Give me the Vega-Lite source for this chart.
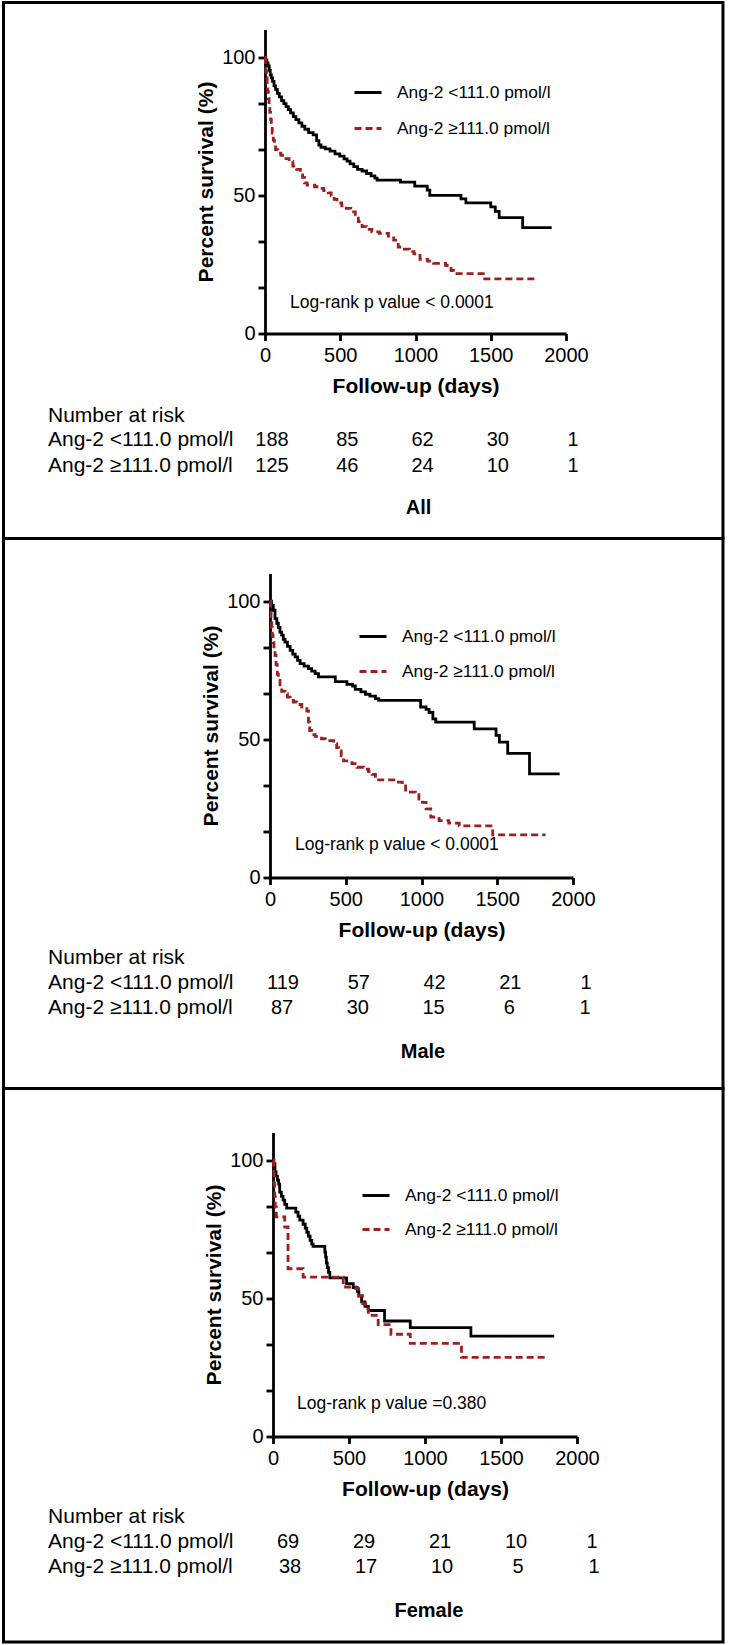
{
  "$schema": "https://vega.github.io/schema/vega-lite/v6.json",
  "padding": {"left": 2, "top": 0.5, "right": 0, "bottom": 0},
  "background": "white",
  "columns": 1,
  "align": "none",
  "spacing": -4,
  "resolve": {"scale": {"color": "independent", "strokeDash": "independent"}, "legend": {"color": "independent", "strokeDash": "independent"}},
  "config": {
    "font": "Liberation Sans",
    "view": {"stroke": null},
    "axis": {
      "grid": false, "domainColor": "black", "domainWidth": 2.8, "tickColor": "black", "tickWidth": 2.8,
      "labelColor": "black", "labelFontSize": 20, "labelFont": "Liberation Sans",
      "titleColor": "black", "titleFontSize": 21, "titleFontWeight": "bold", "titleFont": "Liberation Sans"
    },
    "text": {"font": "Liberation Sans", "color": "black"}
  },
  "datasets": {
    "panels": [
      {"panel": "All", "logrank": "Log-rank p value < 0.0001"},
      {"panel": "Male", "logrank": "Log-rank p value < 0.0001"},
      {"panel": "Female", "logrank": "Log-rank p value =0.380"}
    ],
    "risk": [
      {"panel": "All", "group": "Ang-2 <111.0 pmol/l", "time": 0, "n": 188},
      {"panel": "All", "group": "Ang-2 <111.0 pmol/l", "time": 500, "n": 85},
      {"panel": "All", "group": "Ang-2 <111.0 pmol/l", "time": 1000, "n": 62},
      {"panel": "All", "group": "Ang-2 <111.0 pmol/l", "time": 1500, "n": 30},
      {"panel": "All", "group": "Ang-2 <111.0 pmol/l", "time": 2000, "n": 1},
      {"panel": "All", "group": "Ang-2 ≥111.0 pmol/l", "time": 0, "n": 125},
      {"panel": "All", "group": "Ang-2 ≥111.0 pmol/l", "time": 500, "n": 46},
      {"panel": "All", "group": "Ang-2 ≥111.0 pmol/l", "time": 1000, "n": 24},
      {"panel": "All", "group": "Ang-2 ≥111.0 pmol/l", "time": 1500, "n": 10},
      {"panel": "All", "group": "Ang-2 ≥111.0 pmol/l", "time": 2000, "n": 1},
      {"panel": "Male", "group": "Ang-2 <111.0 pmol/l", "time": 0, "n": 119},
      {"panel": "Male", "group": "Ang-2 <111.0 pmol/l", "time": 500, "n": 57},
      {"panel": "Male", "group": "Ang-2 <111.0 pmol/l", "time": 1000, "n": 42},
      {"panel": "Male", "group": "Ang-2 <111.0 pmol/l", "time": 1500, "n": 21},
      {"panel": "Male", "group": "Ang-2 <111.0 pmol/l", "time": 2000, "n": 1},
      {"panel": "Male", "group": "Ang-2 ≥111.0 pmol/l", "time": 0, "n": 87},
      {"panel": "Male", "group": "Ang-2 ≥111.0 pmol/l", "time": 500, "n": 30},
      {"panel": "Male", "group": "Ang-2 ≥111.0 pmol/l", "time": 1000, "n": 15},
      {"panel": "Male", "group": "Ang-2 ≥111.0 pmol/l", "time": 1500, "n": 6},
      {"panel": "Male", "group": "Ang-2 ≥111.0 pmol/l", "time": 2000, "n": 1},
      {"panel": "Female", "group": "Ang-2 <111.0 pmol/l", "time": 0, "n": 69},
      {"panel": "Female", "group": "Ang-2 <111.0 pmol/l", "time": 500, "n": 29},
      {"panel": "Female", "group": "Ang-2 <111.0 pmol/l", "time": 1000, "n": 21},
      {"panel": "Female", "group": "Ang-2 <111.0 pmol/l", "time": 1500, "n": 10},
      {"panel": "Female", "group": "Ang-2 <111.0 pmol/l", "time": 2000, "n": 1},
      {"panel": "Female", "group": "Ang-2 ≥111.0 pmol/l", "time": 0, "n": 38},
      {"panel": "Female", "group": "Ang-2 ≥111.0 pmol/l", "time": 500, "n": 17},
      {"panel": "Female", "group": "Ang-2 ≥111.0 pmol/l", "time": 1000, "n": 10},
      {"panel": "Female", "group": "Ang-2 ≥111.0 pmol/l", "time": 1500, "n": 5},
      {"panel": "Female", "group": "Ang-2 ≥111.0 pmol/l", "time": 2000, "n": 1}
    ],
    "km": [
      {"panel":"All","group":"Ang-2 <111.0 pmol/l","day":0,"surv":100},
      {"panel":"All","group":"Ang-2 <111.0 pmol/l","day":5,"surv":98.9},
      {"panel":"All","group":"Ang-2 <111.0 pmol/l","day":12,"surv":97.9},
      {"panel":"All","group":"Ang-2 <111.0 pmol/l","day":20,"surv":96.8},
      {"panel":"All","group":"Ang-2 <111.0 pmol/l","day":28,"surv":95.2},
      {"panel":"All","group":"Ang-2 <111.0 pmol/l","day":35,"surv":93.6},
      {"panel":"All","group":"Ang-2 <111.0 pmol/l","day":42,"surv":92.5},
      {"panel":"All","group":"Ang-2 <111.0 pmol/l","day":50,"surv":91.2},
      {"panel":"All","group":"Ang-2 <111.0 pmol/l","day":60,"surv":89.6},
      {"panel":"All","group":"Ang-2 <111.0 pmol/l","day":70,"surv":88.3},
      {"panel":"All","group":"Ang-2 <111.0 pmol/l","day":82,"surv":86.9},
      {"panel":"All","group":"Ang-2 <111.0 pmol/l","day":95,"surv":85.6},
      {"panel":"All","group":"Ang-2 <111.0 pmol/l","day":110,"surv":84.3},
      {"panel":"All","group":"Ang-2 <111.0 pmol/l","day":125,"surv":83.2},
      {"panel":"All","group":"Ang-2 <111.0 pmol/l","day":140,"surv":82.1},
      {"panel":"All","group":"Ang-2 <111.0 pmol/l","day":155,"surv":81},
      {"panel":"All","group":"Ang-2 <111.0 pmol/l","day":170,"surv":79.8},
      {"panel":"All","group":"Ang-2 <111.0 pmol/l","day":188,"surv":78.5},
      {"panel":"All","group":"Ang-2 <111.0 pmol/l","day":205,"surv":77.4},
      {"panel":"All","group":"Ang-2 <111.0 pmol/l","day":225,"surv":76.2},
      {"panel":"All","group":"Ang-2 <111.0 pmol/l","day":245,"surv":75},
      {"panel":"All","group":"Ang-2 <111.0 pmol/l","day":265,"surv":73.9},
      {"panel":"All","group":"Ang-2 <111.0 pmol/l","day":290,"surv":72.7},
      {"panel":"All","group":"Ang-2 <111.0 pmol/l","day":320,"surv":71.9},
      {"panel":"All","group":"Ang-2 <111.0 pmol/l","day":343,"surv":69.8},
      {"panel":"All","group":"Ang-2 <111.0 pmol/l","day":358,"surv":68.2},
      {"panel":"All","group":"Ang-2 <111.0 pmol/l","day":372,"surv":67.4},
      {"panel":"All","group":"Ang-2 <111.0 pmol/l","day":400,"surv":66.8},
      {"panel":"All","group":"Ang-2 <111.0 pmol/l","day":432,"surv":66},
      {"panel":"All","group":"Ang-2 <111.0 pmol/l","day":465,"surv":65},
      {"panel":"All","group":"Ang-2 <111.0 pmol/l","day":497,"surv":64.2},
      {"panel":"All","group":"Ang-2 <111.0 pmol/l","day":525,"surv":63.2},
      {"panel":"All","group":"Ang-2 <111.0 pmol/l","day":545,"surv":62.4},
      {"panel":"All","group":"Ang-2 <111.0 pmol/l","day":565,"surv":61.4},
      {"panel":"All","group":"Ang-2 <111.0 pmol/l","day":590,"surv":60.4},
      {"panel":"All","group":"Ang-2 <111.0 pmol/l","day":615,"surv":59.4},
      {"panel":"All","group":"Ang-2 <111.0 pmol/l","day":645,"surv":58.8},
      {"panel":"All","group":"Ang-2 <111.0 pmol/l","day":675,"surv":57.9},
      {"panel":"All","group":"Ang-2 <111.0 pmol/l","day":705,"surv":57},
      {"panel":"All","group":"Ang-2 <111.0 pmol/l","day":730,"surv":56.2},
      {"panel":"All","group":"Ang-2 <111.0 pmol/l","day":745,"surv":55.5},
      {"panel":"All","group":"Ang-2 <111.0 pmol/l","day":900,"surv":54.8},
      {"panel":"All","group":"Ang-2 <111.0 pmol/l","day":995,"surv":53.3},
      {"panel":"All","group":"Ang-2 <111.0 pmol/l","day":1078,"surv":51.9},
      {"panel":"All","group":"Ang-2 <111.0 pmol/l","day":1095,"surv":50},
      {"panel":"All","group":"Ang-2 <111.0 pmol/l","day":1302,"surv":48.7},
      {"panel":"All","group":"Ang-2 <111.0 pmol/l","day":1335,"surv":47.3},
      {"panel":"All","group":"Ang-2 <111.0 pmol/l","day":1500,"surv":45.8},
      {"panel":"All","group":"Ang-2 <111.0 pmol/l","day":1530,"surv":44.2},
      {"panel":"All","group":"Ang-2 <111.0 pmol/l","day":1556,"surv":41.9},
      {"panel":"All","group":"Ang-2 <111.0 pmol/l","day":1712,"surv":38.3},
      {"panel":"All","group":"Ang-2 <111.0 pmol/l","day":1905,"surv":38.3},
      {"panel":"All","group":"Ang-2 ≥111.0 pmol/l","day":0,"surv":100},
      {"panel":"All","group":"Ang-2 ≥111.0 pmol/l","day":3,"surv":97.5},
      {"panel":"All","group":"Ang-2 ≥111.0 pmol/l","day":6,"surv":95},
      {"panel":"All","group":"Ang-2 ≥111.0 pmol/l","day":10,"surv":92.5},
      {"panel":"All","group":"Ang-2 ≥111.0 pmol/l","day":14,"surv":90},
      {"panel":"All","group":"Ang-2 ≥111.0 pmol/l","day":18,"surv":87.5},
      {"panel":"All","group":"Ang-2 ≥111.0 pmol/l","day":22,"surv":85},
      {"panel":"All","group":"Ang-2 ≥111.0 pmol/l","day":27,"surv":82.5},
      {"panel":"All","group":"Ang-2 ≥111.0 pmol/l","day":32,"surv":80},
      {"panel":"All","group":"Ang-2 ≥111.0 pmol/l","day":37,"surv":77.5},
      {"panel":"All","group":"Ang-2 ≥111.0 pmol/l","day":42,"surv":75},
      {"panel":"All","group":"Ang-2 ≥111.0 pmol/l","day":48,"surv":72.5},
      {"panel":"All","group":"Ang-2 ≥111.0 pmol/l","day":55,"surv":70},
      {"panel":"All","group":"Ang-2 ≥111.0 pmol/l","day":62,"surv":68},
      {"panel":"All","group":"Ang-2 ≥111.0 pmol/l","day":70,"surv":66.5},
      {"panel":"All","group":"Ang-2 ≥111.0 pmol/l","day":85,"surv":65.3},
      {"panel":"All","group":"Ang-2 ≥111.0 pmol/l","day":105,"surv":64.5},
      {"panel":"All","group":"Ang-2 ≥111.0 pmol/l","day":130,"surv":63.3},
      {"panel":"All","group":"Ang-2 ≥111.0 pmol/l","day":160,"surv":62.3},
      {"panel":"All","group":"Ang-2 ≥111.0 pmol/l","day":185,"surv":60.6},
      {"panel":"All","group":"Ang-2 ≥111.0 pmol/l","day":210,"surv":59.4},
      {"panel":"All","group":"Ang-2 ≥111.0 pmol/l","day":235,"surv":58.2},
      {"panel":"All","group":"Ang-2 ≥111.0 pmol/l","day":250,"surv":56.5},
      {"panel":"All","group":"Ang-2 ≥111.0 pmol/l","day":262,"surv":54.5},
      {"panel":"All","group":"Ang-2 ≥111.0 pmol/l","day":280,"surv":53.7},
      {"panel":"All","group":"Ang-2 ≥111.0 pmol/l","day":330,"surv":53.1},
      {"panel":"All","group":"Ang-2 ≥111.0 pmol/l","day":360,"surv":52.5},
      {"panel":"All","group":"Ang-2 ≥111.0 pmol/l","day":390,"surv":51.7},
      {"panel":"All","group":"Ang-2 ≥111.0 pmol/l","day":420,"surv":50.9},
      {"panel":"All","group":"Ang-2 ≥111.0 pmol/l","day":440,"surv":49.8},
      {"panel":"All","group":"Ang-2 ≥111.0 pmol/l","day":460,"surv":48.5},
      {"panel":"All","group":"Ang-2 ≥111.0 pmol/l","day":478,"surv":47.3},
      {"panel":"All","group":"Ang-2 ≥111.0 pmol/l","day":510,"surv":46.2},
      {"panel":"All","group":"Ang-2 ≥111.0 pmol/l","day":540,"surv":45.3},
      {"panel":"All","group":"Ang-2 ≥111.0 pmol/l","day":570,"surv":44},
      {"panel":"All","group":"Ang-2 ≥111.0 pmol/l","day":600,"surv":42.4},
      {"panel":"All","group":"Ang-2 ≥111.0 pmol/l","day":620,"surv":40.5},
      {"panel":"All","group":"Ang-2 ≥111.0 pmol/l","day":645,"surv":38.7},
      {"panel":"All","group":"Ang-2 ≥111.0 pmol/l","day":675,"surv":37.7},
      {"panel":"All","group":"Ang-2 ≥111.0 pmol/l","day":710,"surv":36.8},
      {"panel":"All","group":"Ang-2 ≥111.0 pmol/l","day":760,"surv":36.2},
      {"panel":"All","group":"Ang-2 ≥111.0 pmol/l","day":820,"surv":35.2},
      {"panel":"All","group":"Ang-2 ≥111.0 pmol/l","day":855,"surv":33.8},
      {"panel":"All","group":"Ang-2 ≥111.0 pmol/l","day":885,"surv":31.3},
      {"panel":"All","group":"Ang-2 ≥111.0 pmol/l","day":915,"surv":30.5},
      {"panel":"All","group":"Ang-2 ≥111.0 pmol/l","day":960,"surv":29.6},
      {"panel":"All","group":"Ang-2 ≥111.0 pmol/l","day":990,"surv":28.8},
      {"panel":"All","group":"Ang-2 ≥111.0 pmol/l","day":1030,"surv":26.8},
      {"panel":"All","group":"Ang-2 ≥111.0 pmol/l","day":1080,"surv":26.2},
      {"panel":"All","group":"Ang-2 ≥111.0 pmol/l","day":1120,"surv":25.4},
      {"panel":"All","group":"Ang-2 ≥111.0 pmol/l","day":1200,"surv":24.6},
      {"panel":"All","group":"Ang-2 ≥111.0 pmol/l","day":1236,"surv":22.8},
      {"panel":"All","group":"Ang-2 ≥111.0 pmol/l","day":1253,"surv":21.7},
      {"panel":"All","group":"Ang-2 ≥111.0 pmol/l","day":1460,"surv":19.8},
      {"panel":"All","group":"Ang-2 ≥111.0 pmol/l","day":1810,"surv":19.8},
      {"panel":"Male","group":"Ang-2 <111.0 pmol/l","day":0,"surv":100},
      {"panel":"Male","group":"Ang-2 <111.0 pmol/l","day":10,"surv":98.5},
      {"panel":"Male","group":"Ang-2 <111.0 pmol/l","day":22,"surv":96.7},
      {"panel":"Male","group":"Ang-2 <111.0 pmol/l","day":33,"surv":93.7},
      {"panel":"Male","group":"Ang-2 <111.0 pmol/l","day":45,"surv":92},
      {"panel":"Male","group":"Ang-2 <111.0 pmol/l","day":55,"surv":90.5},
      {"panel":"Male","group":"Ang-2 <111.0 pmol/l","day":66,"surv":88.8},
      {"panel":"Male","group":"Ang-2 <111.0 pmol/l","day":77,"surv":87.7},
      {"panel":"Male","group":"Ang-2 <111.0 pmol/l","day":88,"surv":86.2},
      {"panel":"Male","group":"Ang-2 <111.0 pmol/l","day":99,"surv":85.2},
      {"panel":"Male","group":"Ang-2 <111.0 pmol/l","day":115,"surv":83.6},
      {"panel":"Male","group":"Ang-2 <111.0 pmol/l","day":133,"surv":82.2},
      {"panel":"Male","group":"Ang-2 <111.0 pmol/l","day":150,"surv":80.8},
      {"panel":"Male","group":"Ang-2 <111.0 pmol/l","day":166,"surv":79.8},
      {"panel":"Male","group":"Ang-2 <111.0 pmol/l","day":182,"surv":78.6},
      {"panel":"Male","group":"Ang-2 <111.0 pmol/l","day":199,"surv":77.4},
      {"panel":"Male","group":"Ang-2 <111.0 pmol/l","day":225,"surv":76.5},
      {"panel":"Male","group":"Ang-2 <111.0 pmol/l","day":254,"surv":75.6},
      {"panel":"Male","group":"Ang-2 <111.0 pmol/l","day":275,"surv":74.7},
      {"panel":"Male","group":"Ang-2 <111.0 pmol/l","day":298,"surv":73.8},
      {"panel":"Male","group":"Ang-2 <111.0 pmol/l","day":320,"surv":72.6},
      {"panel":"Male","group":"Ang-2 <111.0 pmol/l","day":431,"surv":70.9},
      {"panel":"Male","group":"Ang-2 <111.0 pmol/l","day":508,"surv":69.9},
      {"panel":"Male","group":"Ang-2 <111.0 pmol/l","day":545,"surv":69.3},
      {"panel":"Male","group":"Ang-2 <111.0 pmol/l","day":563,"surv":68.1},
      {"panel":"Male","group":"Ang-2 <111.0 pmol/l","day":600,"surv":67.2},
      {"panel":"Male","group":"Ang-2 <111.0 pmol/l","day":630,"surv":66.3},
      {"panel":"Male","group":"Ang-2 <111.0 pmol/l","day":660,"surv":65.6},
      {"panel":"Male","group":"Ang-2 <111.0 pmol/l","day":696,"surv":64.7},
      {"panel":"Male","group":"Ang-2 <111.0 pmol/l","day":718,"surv":64.1},
      {"panel":"Male","group":"Ang-2 <111.0 pmol/l","day":994,"surv":61.7},
      {"panel":"Male","group":"Ang-2 <111.0 pmol/l","day":1030,"surv":60.8},
      {"panel":"Male","group":"Ang-2 <111.0 pmol/l","day":1050,"surv":59.7},
      {"panel":"Male","group":"Ang-2 <111.0 pmol/l","day":1075,"surv":57.4},
      {"panel":"Male","group":"Ang-2 <111.0 pmol/l","day":1094,"surv":56.2},
      {"panel":"Male","group":"Ang-2 <111.0 pmol/l","day":1348,"surv":53.8},
      {"panel":"Male","group":"Ang-2 <111.0 pmol/l","day":1492,"surv":51.4},
      {"panel":"Male","group":"Ang-2 <111.0 pmol/l","day":1514,"surv":49},
      {"panel":"Male","group":"Ang-2 <111.0 pmol/l","day":1569,"surv":44.9},
      {"panel":"Male","group":"Ang-2 <111.0 pmol/l","day":1713,"surv":37.5},
      {"panel":"Male","group":"Ang-2 <111.0 pmol/l","day":1912,"surv":37.5},
      {"panel":"Male","group":"Ang-2 ≥111.0 pmol/l","day":0,"surv":100},
      {"panel":"Male","group":"Ang-2 ≥111.0 pmol/l","day":4,"surv":96.5},
      {"panel":"Male","group":"Ang-2 ≥111.0 pmol/l","day":7,"surv":93.7},
      {"panel":"Male","group":"Ang-2 ≥111.0 pmol/l","day":11,"surv":90.5},
      {"panel":"Male","group":"Ang-2 ≥111.0 pmol/l","day":15,"surv":87.7},
      {"panel":"Male","group":"Ang-2 ≥111.0 pmol/l","day":20,"surv":85},
      {"panel":"Male","group":"Ang-2 ≥111.0 pmol/l","day":26,"surv":82.5},
      {"panel":"Male","group":"Ang-2 ≥111.0 pmol/l","day":33,"surv":80.4},
      {"panel":"Male","group":"Ang-2 ≥111.0 pmol/l","day":40,"surv":77},
      {"panel":"Male","group":"Ang-2 ≥111.0 pmol/l","day":48,"surv":73.6},
      {"panel":"Male","group":"Ang-2 ≥111.0 pmol/l","day":55,"surv":71.3},
      {"panel":"Male","group":"Ang-2 ≥111.0 pmol/l","day":66,"surv":69},
      {"panel":"Male","group":"Ang-2 ≥111.0 pmol/l","day":77,"surv":67.4},
      {"panel":"Male","group":"Ang-2 ≥111.0 pmol/l","day":99,"surv":66.5},
      {"panel":"Male","group":"Ang-2 ≥111.0 pmol/l","day":115,"surv":65.3},
      {"panel":"Male","group":"Ang-2 ≥111.0 pmol/l","day":133,"surv":64.1},
      {"panel":"Male","group":"Ang-2 ≥111.0 pmol/l","day":155,"surv":63.5},
      {"panel":"Male","group":"Ang-2 ≥111.0 pmol/l","day":177,"surv":62.6},
      {"panel":"Male","group":"Ang-2 ≥111.0 pmol/l","day":210,"surv":61.7},
      {"panel":"Male","group":"Ang-2 ≥111.0 pmol/l","day":243,"surv":60.3},
      {"panel":"Male","group":"Ang-2 ≥111.0 pmol/l","day":254,"surv":56.2},
      {"panel":"Male","group":"Ang-2 ≥111.0 pmol/l","day":262,"surv":53.2},
      {"panel":"Male","group":"Ang-2 ≥111.0 pmol/l","day":275,"surv":51.7},
      {"panel":"Male","group":"Ang-2 ≥111.0 pmol/l","day":298,"surv":51.1},
      {"panel":"Male","group":"Ang-2 ≥111.0 pmol/l","day":340,"surv":50.2},
      {"panel":"Male","group":"Ang-2 ≥111.0 pmol/l","day":365,"surv":49.5},
      {"panel":"Male","group":"Ang-2 ≥111.0 pmol/l","day":420,"surv":48.3},
      {"panel":"Male","group":"Ang-2 ≥111.0 pmol/l","day":440,"surv":47},
      {"panel":"Male","group":"Ang-2 ≥111.0 pmol/l","day":453,"surv":45.8},
      {"panel":"Male","group":"Ang-2 ≥111.0 pmol/l","day":470,"surv":44},
      {"panel":"Male","group":"Ang-2 ≥111.0 pmol/l","day":486,"surv":42.2},
      {"panel":"Male","group":"Ang-2 ≥111.0 pmol/l","day":541,"surv":41.2},
      {"panel":"Male","group":"Ang-2 ≥111.0 pmol/l","day":574,"surv":39.9},
      {"panel":"Male","group":"Ang-2 ≥111.0 pmol/l","day":619,"surv":39.2},
      {"panel":"Male","group":"Ang-2 ≥111.0 pmol/l","day":650,"surv":38.3},
      {"panel":"Male","group":"Ang-2 ≥111.0 pmol/l","day":674,"surv":37.3},
      {"panel":"Male","group":"Ang-2 ≥111.0 pmol/l","day":696,"surv":35.3},
      {"panel":"Male","group":"Ang-2 ≥111.0 pmol/l","day":830,"surv":34.5},
      {"panel":"Male","group":"Ang-2 ≥111.0 pmol/l","day":873,"surv":33.7},
      {"panel":"Male","group":"Ang-2 ≥111.0 pmol/l","day":895,"surv":30.9},
      {"panel":"Male","group":"Ang-2 ≥111.0 pmol/l","day":960,"surv":30},
      {"panel":"Male","group":"Ang-2 ≥111.0 pmol/l","day":983,"surv":28.4},
      {"panel":"Male","group":"Ang-2 ≥111.0 pmol/l","day":1006,"surv":27.2},
      {"panel":"Male","group":"Ang-2 ≥111.0 pmol/l","day":1030,"surv":24.8},
      {"panel":"Male","group":"Ang-2 ≥111.0 pmol/l","day":1061,"surv":21.9},
      {"panel":"Male","group":"Ang-2 ≥111.0 pmol/l","day":1116,"surv":20.6},
      {"panel":"Male","group":"Ang-2 ≥111.0 pmol/l","day":1180,"surv":19.7},
      {"panel":"Male","group":"Ang-2 ≥111.0 pmol/l","day":1249,"surv":18.7},
      {"panel":"Male","group":"Ang-2 ≥111.0 pmol/l","day":1470,"surv":15.4},
      {"panel":"Male","group":"Ang-2 ≥111.0 pmol/l","day":1819,"surv":15.4},
      {"panel":"Female","group":"Ang-2 <111.0 pmol/l","day":0,"surv":100},
      {"panel":"Female","group":"Ang-2 <111.0 pmol/l","day":6,"surv":98.6},
      {"panel":"Female","group":"Ang-2 <111.0 pmol/l","day":13,"surv":95.7},
      {"panel":"Female","group":"Ang-2 <111.0 pmol/l","day":20,"surv":94.2},
      {"panel":"Female","group":"Ang-2 <111.0 pmol/l","day":29,"surv":92.8},
      {"panel":"Female","group":"Ang-2 <111.0 pmol/l","day":37,"surv":91.3},
      {"panel":"Female","group":"Ang-2 <111.0 pmol/l","day":44,"surv":88.4},
      {"panel":"Female","group":"Ang-2 <111.0 pmol/l","day":55,"surv":86.9},
      {"panel":"Female","group":"Ang-2 <111.0 pmol/l","day":66,"surv":85.5},
      {"panel":"Female","group":"Ang-2 <111.0 pmol/l","day":77,"surv":84},
      {"panel":"Female","group":"Ang-2 <111.0 pmol/l","day":90,"surv":82.6},
      {"panel":"Female","group":"Ang-2 <111.0 pmol/l","day":150,"surv":81.2},
      {"panel":"Female","group":"Ang-2 <111.0 pmol/l","day":165,"surv":79.7},
      {"panel":"Female","group":"Ang-2 <111.0 pmol/l","day":176,"surv":78.3},
      {"panel":"Female","group":"Ang-2 <111.0 pmol/l","day":198,"surv":76.8},
      {"panel":"Female","group":"Ang-2 <111.0 pmol/l","day":212,"surv":75.4},
      {"panel":"Female","group":"Ang-2 <111.0 pmol/l","day":222,"surv":73.9},
      {"panel":"Female","group":"Ang-2 <111.0 pmol/l","day":233,"surv":72.5},
      {"panel":"Female","group":"Ang-2 <111.0 pmol/l","day":244,"surv":71},
      {"panel":"Female","group":"Ang-2 <111.0 pmol/l","day":255,"surv":69.6},
      {"panel":"Female","group":"Ang-2 <111.0 pmol/l","day":264,"surv":68.8},
      {"panel":"Female","group":"Ang-2 <111.0 pmol/l","day":341,"surv":66.7},
      {"panel":"Female","group":"Ang-2 <111.0 pmol/l","day":346,"surv":64.9},
      {"panel":"Female","group":"Ang-2 <111.0 pmol/l","day":351,"surv":62.8},
      {"panel":"Female","group":"Ang-2 <111.0 pmol/l","day":357,"surv":61.1},
      {"panel":"Female","group":"Ang-2 <111.0 pmol/l","day":365,"surv":59.4},
      {"panel":"Female","group":"Ang-2 <111.0 pmol/l","day":374,"surv":57.4},
      {"panel":"Female","group":"Ang-2 <111.0 pmol/l","day":484,"surv":55.3},
      {"panel":"Female","group":"Ang-2 <111.0 pmol/l","day":528,"surv":53.9},
      {"panel":"Female","group":"Ang-2 <111.0 pmol/l","day":555,"surv":52.5},
      {"panel":"Female","group":"Ang-2 <111.0 pmol/l","day":565,"surv":50.8},
      {"panel":"Female","group":"Ang-2 <111.0 pmol/l","day":583,"surv":48.7},
      {"panel":"Female","group":"Ang-2 <111.0 pmol/l","day":605,"surv":47.1},
      {"panel":"Female","group":"Ang-2 <111.0 pmol/l","day":627,"surv":45.6},
      {"panel":"Female","group":"Ang-2 <111.0 pmol/l","day":734,"surv":41.8},
      {"panel":"Female","group":"Ang-2 <111.0 pmol/l","day":903,"surv":39.4},
      {"panel":"Female","group":"Ang-2 <111.0 pmol/l","day":1302,"surv":36.3},
      {"panel":"Female","group":"Ang-2 <111.0 pmol/l","day":1850,"surv":36.3},
      {"panel":"Female","group":"Ang-2 ≥111.0 pmol/l","day":0,"surv":100},
      {"panel":"Female","group":"Ang-2 ≥111.0 pmol/l","day":4,"surv":97.4},
      {"panel":"Female","group":"Ang-2 ≥111.0 pmol/l","day":7,"surv":91.5},
      {"panel":"Female","group":"Ang-2 ≥111.0 pmol/l","day":11,"surv":86.8},
      {"panel":"Female","group":"Ang-2 ≥111.0 pmol/l","day":15,"surv":83},
      {"panel":"Female","group":"Ang-2 ≥111.0 pmol/l","day":22,"surv":79.5},
      {"panel":"Female","group":"Ang-2 ≥111.0 pmol/l","day":77,"surv":75.8},
      {"panel":"Female","group":"Ang-2 ≥111.0 pmol/l","day":99,"surv":60.7},
      {"panel":"Female","group":"Ang-2 ≥111.0 pmol/l","day":198,"surv":57.7},
      {"panel":"Female","group":"Ang-2 ≥111.0 pmol/l","day":462,"surv":54.1},
      {"panel":"Female","group":"Ang-2 ≥111.0 pmol/l","day":545,"surv":53.5},
      {"panel":"Female","group":"Ang-2 ≥111.0 pmol/l","day":563,"surv":51},
      {"panel":"Female","group":"Ang-2 ≥111.0 pmol/l","day":590,"surv":48},
      {"panel":"Female","group":"Ang-2 ≥111.0 pmol/l","day":610,"surv":46.3},
      {"panel":"Female","group":"Ang-2 ≥111.0 pmol/l","day":627,"surv":43.8},
      {"panel":"Female","group":"Ang-2 ≥111.0 pmol/l","day":692,"surv":40.5},
      {"panel":"Female","group":"Ang-2 ≥111.0 pmol/l","day":776,"surv":37},
      {"panel":"Female","group":"Ang-2 ≥111.0 pmol/l","day":903,"surv":33.7},
      {"panel":"Female","group":"Ang-2 ≥111.0 pmol/l","day":1240,"surv":28.6},
      {"panel":"Female","group":"Ang-2 ≥111.0 pmol/l","day":1804,"surv":28.6}
    ]
  },
  "concat": [
    {
      "width": 301, "height": 304,
      "layer": [
        {"data": {"name": "panels"}, "transform": [{"filter": "datum.panel === 'All'"}],
         "mark": {"type": "rect", "fill": "transparent", "stroke": "black", "strokeWidth": 3},
         "encoding": {"x": {"datum": -1737.5}, "x2": {"datum": 3043}, "y": {"datum": 119.77}, "y2": {"datum": -74.14}}},
        {"data": {"name": "km"}, "transform": [{"filter": "datum.panel === 'All'"}],
         "mark": {"type": "line", "interpolate": "step-after", "strokeWidth": 2.8},
         "encoding": {
           "x": {"field": "day", "type": "quantitative", "scale": {"domain": [0, 2000], "nice": false, "zero": false},
                 "axis": {"title": "Follow-up (days)", "format": "d", "values": [0, 500, 1000, 1500, 2000], "tickSize": 7, "labelPadding": 5, "titlePadding": 10, "labelFlush": false, "labelOverlap": false}},
           "y": {"field": "surv", "type": "quantitative", "scale": {"domain": [0, 110], "nice": false},
                 "axis": {"title": "Percent survival (%)", "values": [0, 16.666666666666668, 33.333333333333336, 50, 66.66666666666667, 83.33333333333333, 100], "labelExpr": "datum.value === 0 || datum.value === 50 || datum.value === 100 ? datum.label : ''", "tickSize": 7, "labelPadding": 3, "titlePadding": 5, "labelOverlap": false}},
           "color": {"field": "group", "type": "nominal", "scale": {"domain": ["Ang-2 <111.0 pmol/l", "Ang-2 ≥111.0 pmol/l"], "range": ["#000000", "#9e1f1f"]},
                     "legend": {"orient": "none", "legendX": 88, "legendY": 48, "title": null, "symbolType": "stroke", "symbolSize": 729, "symbolStrokeWidth": 2.8, "labelFontSize": 17.4, "labelOffset": 14, "rowPadding": 12, "padding": 0, "labelColor": "black"}},
           "strokeDash": {"field": "group", "type": "nominal", "scale": {"domain": ["Ang-2 <111.0 pmol/l", "Ang-2 ≥111.0 pmol/l"], "range": [[1, 0], [7, 4]]},
                     "legend": {"orient": "none", "legendX": 88, "legendY": 48, "title": null, "symbolType": "stroke", "symbolSize": 729, "symbolStrokeWidth": 2.8, "labelFontSize": 17.4, "labelOffset": 14, "rowPadding": 12, "padding": 0, "labelColor": "black"}}
         }},
        {"data": {"name": "panels"}, "transform": [{"filter": "datum.panel === 'All'"}],
         "mark": {"type": "text", "align": "left", "baseline": "middle", "fontSize": 17.5},
         "encoding": {"x": {"datum": 166}, "y": {"datum": 11.2}, "text": {"field": "logrank"}}},
        {"data": {"name": "panels"}, "transform": [{"filter": "datum.panel === 'All'"}],
         "mark": {"type": "text", "align": "left", "baseline": "middle", "fontSize": 21, "text": "Number at risk"},
         "encoding": {"x": {"datum": -1442}, "y": {"datum": -29.7}}},
        {"data": {"name": "risk"}, "transform": [{"filter": "datum.panel === 'All' && datum.time === 0 && datum.group === 'Ang-2 <111.0 pmol/l'"}],
         "mark": {"type": "text", "align": "left", "baseline": "middle", "fontSize": 21},
         "encoding": {"x": {"datum": -1442}, "y": {"datum": -38.4}, "text": {"field": "group"}}},
        {"data": {"name": "risk"}, "transform": [{"filter": "datum.panel === 'All' && datum.time === 0 && datum.group === 'Ang-2 ≥111.0 pmol/l'"}],
         "mark": {"type": "text", "align": "left", "baseline": "middle", "fontSize": 21},
         "encoding": {"x": {"datum": -1442}, "y": {"datum": -47.8}, "text": {"field": "group"}}},
        {"data": {"name": "risk"}, "transform": [{"filter": "datum.panel === 'All' && datum.group === 'Ang-2 <111.0 pmol/l'"}],
         "mark": {"type": "text", "align": "center", "baseline": "middle", "fontSize": 20, "dx": 7},
         "encoding": {"x": {"field": "time", "type": "quantitative"}, "y": {"datum": -38.4}, "text": {"field": "n"}}},
        {"data": {"name": "risk"}, "transform": [{"filter": "datum.panel === 'All' && datum.group === 'Ang-2 ≥111.0 pmol/l'"}],
         "mark": {"type": "text", "align": "center", "baseline": "middle", "fontSize": 20, "dx": 7},
         "encoding": {"x": {"field": "time", "type": "quantitative"}, "y": {"datum": -47.8}, "text": {"field": "n"}}},
        {"data": {"name": "panels"}, "transform": [{"filter": "datum.panel === 'All'"}],
         "mark": {"type": "text", "align": "center", "baseline": "middle", "fontSize": 20, "fontWeight": "bold"},
         "encoding": {"x": {"datum": 1020}, "y": {"datum": -63.3}, "text": {"field": "panel"}}}
      ]
    },
    {
      "width": 308, "height": 304,
      "layer": [
        {"data": {"name": "panels"}, "transform": [{"filter": "datum.panel === 'Male'"}],
         "mark": {"type": "rect", "fill": "transparent", "stroke": "black", "strokeWidth": 3},
         "encoding": {"x": {"datum": -1759}, "x2": {"datum": 2990}, "y": {"datum": 122.7}, "y2": {"datum": -76.31}}},
        {"data": {"name": "km"}, "transform": [{"filter": "datum.panel === 'Male'"}],
         "mark": {"type": "line", "interpolate": "step-after", "strokeWidth": 2.8},
         "encoding": {
           "x": {"field": "day", "type": "quantitative", "scale": {"domain": [0, 2000], "range": [5, 308], "nice": false, "zero": false},
                 "axis": {"title": "Follow-up (days)", "format": "d", "values": [0, 500, 1000, 1500, 2000], "tickSize": 7, "labelPadding": 5, "titlePadding": 10, "labelFlush": false, "labelOverlap": false}},
           "y": {"field": "surv", "type": "quantitative", "scale": {"domain": [0, 110], "nice": false},
                 "axis": {"title": "Percent survival (%)", "offset": -5, "values": [0, 16.666666666666668, 33.333333333333336, 50, 66.66666666666667, 83.33333333333333, 100], "labelExpr": "datum.value === 0 || datum.value === 50 || datum.value === 100 ? datum.label : ''", "tickSize": 7, "labelPadding": 3, "titlePadding": 5, "labelOverlap": false}},
           "color": {"field": "group", "type": "nominal", "scale": {"domain": ["Ang-2 <111.0 pmol/l", "Ang-2 ≥111.0 pmol/l"], "range": ["#000000", "#9e1f1f"]},
                     "legend": {"orient": "none", "legendX": 93, "legendY": 48, "title": null, "symbolType": "stroke", "symbolSize": 729, "symbolStrokeWidth": 2.8, "labelFontSize": 17.4, "labelOffset": 14, "rowPadding": 11, "padding": 0, "labelColor": "black"}},
           "strokeDash": {"field": "group", "type": "nominal", "scale": {"domain": ["Ang-2 <111.0 pmol/l", "Ang-2 ≥111.0 pmol/l"], "range": [[1, 0], [7, 4]]},
                     "legend": {"orient": "none", "legendX": 93, "legendY": 48, "title": null, "symbolType": "stroke", "symbolSize": 729, "symbolStrokeWidth": 2.8, "labelFontSize": 17.4, "labelOffset": 14, "rowPadding": 11, "padding": 0, "labelColor": "black"}}
         }},
        {"data": {"name": "panels"}, "transform": [{"filter": "datum.panel === 'Male'"}],
         "mark": {"type": "text", "align": "left", "baseline": "middle", "fontSize": 17.5},
         "encoding": {"x": {"datum": 165}, "y": {"datum": 11.6}, "text": {"field": "logrank"}}},
        {"data": {"name": "panels"}, "transform": [{"filter": "datum.panel === 'Male'"}],
         "mark": {"type": "text", "align": "left", "baseline": "middle", "fontSize": 21, "text": "Number at risk"},
         "encoding": {"x": {"datum": -1465}, "y": {"datum": -29.3}}},
        {"data": {"name": "risk"}, "transform": [{"filter": "datum.panel === 'Male' && datum.time === 0 && datum.group === 'Ang-2 <111.0 pmol/l'"}],
         "mark": {"type": "text", "align": "left", "baseline": "middle", "fontSize": 21},
         "encoding": {"x": {"datum": -1465}, "y": {"datum": -38.0}, "text": {"field": "group"}}},
        {"data": {"name": "risk"}, "transform": [{"filter": "datum.panel === 'Male' && datum.time === 0 && datum.group === 'Ang-2 ≥111.0 pmol/l'"}],
         "mark": {"type": "text", "align": "left", "baseline": "middle", "fontSize": 21},
         "encoding": {"x": {"datum": -1465}, "y": {"datum": -47.4}, "text": {"field": "group"}}},
        {"data": {"name": "risk"}, "transform": [{"filter": "datum.panel === 'Male' && datum.group === 'Ang-2 <111.0 pmol/l'"}],
         "mark": {"type": "text", "align": "center", "baseline": "middle", "fontSize": 20, "dx": 13},
         "encoding": {"x": {"field": "time", "type": "quantitative"}, "y": {"datum": -38.0}, "text": {"field": "n"}}},
        {"data": {"name": "risk"}, "transform": [{"filter": "datum.panel === 'Male' && datum.group === 'Ang-2 ≥111.0 pmol/l'"}],
         "mark": {"type": "text", "align": "center", "baseline": "middle", "fontSize": 20, "dx": 12},
         "encoding": {"x": {"field": "time", "type": "quantitative"}, "y": {"datum": -47.4}, "text": {"field": "n"}}},
        {"data": {"name": "panels"}, "transform": [{"filter": "datum.panel === 'Male'"}],
         "mark": {"type": "text", "align": "center", "baseline": "middle", "fontSize": 20, "fontWeight": "bold"},
         "encoding": {"x": {"datum": 1010}, "y": {"datum": -63.3}, "text": {"field": "panel"}}}
      ]
    },
    {
      "width": 312, "height": 304,
      "layer": [
        {"data": {"name": "panels"}, "transform": [{"filter": "datum.panel === 'Female'"}],
         "mark": {"type": "rect", "fill": "transparent", "stroke": "black", "strokeWidth": 3},
         "encoding": {"x": {"datum": -1773}, "x2": {"datum": 2961}, "y": {"datum": 125.96}, "y2": {"datum": -74.36}}},
        {"data": {"name": "km"}, "transform": [{"filter": "datum.panel === 'Female'"}],
         "mark": {"type": "line", "interpolate": "step-after", "strokeWidth": 2.8},
         "encoding": {
           "x": {"field": "day", "type": "quantitative", "scale": {"domain": [0, 2000], "range": [8, 312], "nice": false, "zero": false},
                 "axis": {"title": "Follow-up (days)", "format": "d", "values": [0, 500, 1000, 1500, 2000], "tickSize": 7, "labelPadding": 5, "titlePadding": 10, "labelFlush": false, "labelOverlap": false}},
           "y": {"field": "surv", "type": "quantitative", "scale": {"domain": [0, 110], "nice": false},
                 "axis": {"title": "Percent survival (%)", "offset": -8, "values": [0, 16.666666666666668, 33.333333333333336, 50, 66.66666666666667, 83.33333333333333, 100], "labelExpr": "datum.value === 0 || datum.value === 50 || datum.value === 100 ? datum.label : ''", "tickSize": 7, "labelPadding": 3, "titlePadding": 5, "labelOverlap": false}},
           "color": {"field": "group", "type": "nominal", "scale": {"domain": ["Ang-2 <111.0 pmol/l", "Ang-2 ≥111.0 pmol/l"], "range": ["#000000", "#9e1f1f"]},
                     "legend": {"orient": "none", "legendX": 96, "legendY": 48, "title": null, "symbolType": "stroke", "symbolSize": 729, "symbolStrokeWidth": 2.8, "labelFontSize": 17.4, "labelOffset": 14, "rowPadding": 10, "padding": 0, "labelColor": "black"}},
           "strokeDash": {"field": "group", "type": "nominal", "scale": {"domain": ["Ang-2 <111.0 pmol/l", "Ang-2 ≥111.0 pmol/l"], "range": [[1, 0], [7, 4]]},
                     "legend": {"orient": "none", "legendX": 96, "legendY": 48, "title": null, "symbolType": "stroke", "symbolSize": 729, "symbolStrokeWidth": 2.8, "labelFontSize": 17.4, "labelOffset": 14, "rowPadding": 10, "padding": 0, "labelColor": "black"}}
         }},
        {"data": {"name": "panels"}, "transform": [{"filter": "datum.panel === 'Female'"}],
         "mark": {"type": "text", "align": "left", "baseline": "middle", "fontSize": 17.5},
         "encoding": {"x": {"datum": 158}, "y": {"datum": 11.6}, "text": {"field": "logrank"}}},
        {"data": {"name": "panels"}, "transform": [{"filter": "datum.panel === 'Female'"}],
         "mark": {"type": "text", "align": "left", "baseline": "middle", "fontSize": 21, "text": "Number at risk"},
         "encoding": {"x": {"datum": -1480}, "y": {"datum": -29.3}}},
        {"data": {"name": "risk"}, "transform": [{"filter": "datum.panel === 'Female' && datum.time === 0 && datum.group === 'Ang-2 <111.0 pmol/l'"}],
         "mark": {"type": "text", "align": "left", "baseline": "middle", "fontSize": 21},
         "encoding": {"x": {"datum": -1480}, "y": {"datum": -38.0}, "text": {"field": "group"}}},
        {"data": {"name": "risk"}, "transform": [{"filter": "datum.panel === 'Female' && datum.time === 0 && datum.group === 'Ang-2 ≥111.0 pmol/l'"}],
         "mark": {"type": "text", "align": "left", "baseline": "middle", "fontSize": 21},
         "encoding": {"x": {"datum": -1480}, "y": {"datum": -47.4}, "text": {"field": "group"}}},
        {"data": {"name": "risk"}, "transform": [{"filter": "datum.panel === 'Female' && datum.group === 'Ang-2 <111.0 pmol/l'"}],
         "mark": {"type": "text", "align": "center", "baseline": "middle", "fontSize": 20, "dx": 15},
         "encoding": {"x": {"field": "time", "type": "quantitative"}, "y": {"datum": -38.0}, "text": {"field": "n"}}},
        {"data": {"name": "risk"}, "transform": [{"filter": "datum.panel === 'Female' && datum.group === 'Ang-2 ≥111.0 pmol/l'"}],
         "mark": {"type": "text", "align": "center", "baseline": "middle", "fontSize": 20, "dx": 17},
         "encoding": {"x": {"field": "time", "type": "quantitative"}, "y": {"datum": -47.4}, "text": {"field": "n"}}},
        {"data": {"name": "panels"}, "transform": [{"filter": "datum.panel === 'Female'"}],
         "mark": {"type": "text", "align": "center", "baseline": "middle", "fontSize": 20, "fontWeight": "bold"},
         "encoding": {"x": {"datum": 1026}, "y": {"datum": -63}, "text": {"field": "panel"}}}
      ]
    }
  ]
}
